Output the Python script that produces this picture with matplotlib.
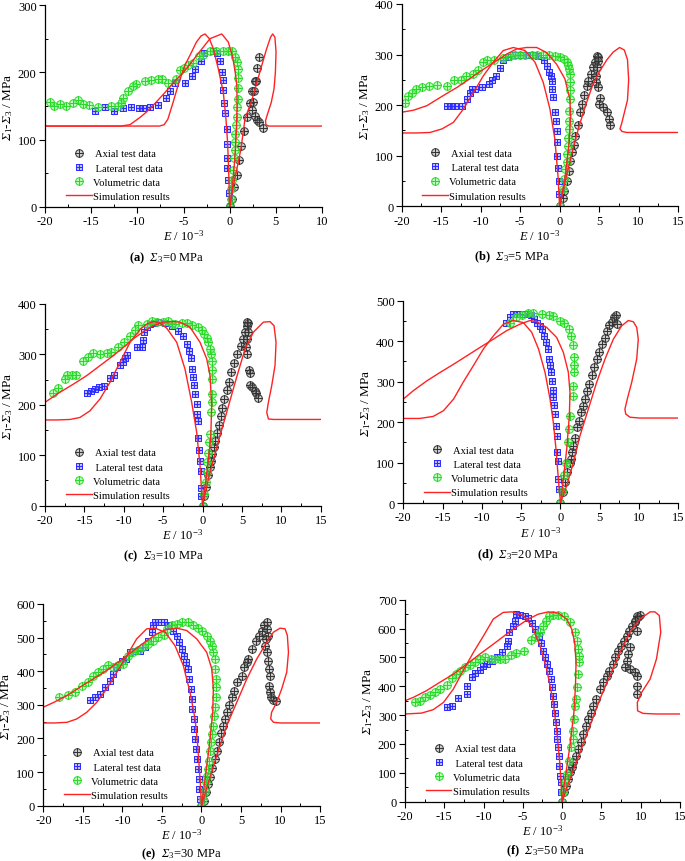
import matplotlib
matplotlib.use('Agg')
import matplotlib.pyplot as plt
from matplotlib.path import Path

plt.rcParams['font.family'] = ['Liberation Serif', 'DejaVu Serif']
plt.rcParams['mathtext.fontset'] = 'custom'
plt.rcParams['mathtext.rm'] = 'Liberation Serif:italic'
plt.rcParams['mathtext.it'] = 'Liberation Serif:italic'
plt.rcParams['mathtext.sf'] = 'Liberation Serif'
plt.rcParams['mathtext.bf'] = 'Liberation Serif:bold'
plt.rcParams['axes.unicode_minus'] = False

# ---------------- data: panel (a) sigma3 = 0 MPa ----------------
A_AX_X = [0.03,0.28,0.5,0.76,1.04,1.26,1.59,1.85,2.2,2.45,2.7,2.93,3.21,2.85,2.6,2.5,2.45,2.78,3.0,3.2,3.57]
A_AX_Y = [0.6,11.5,29,47,70,91,113,133,154,172,187,207,222,187,172,156,144,134.5,129,125.6,116.6]
A_LA_X = [0,-0.08,-0.22,-0.3,-0.3,-0.33,-0.33,-0.47,-0.65,-0.72,-0.76,-0.8,-1.05,-1.34,-1.8,-2.8,-3.14,-3.72,-4.1,-4.8,-5.9,-6.5,-6.9,-7.8,-8.6,-9.4,-9.8,-10.7,-11.6,-12.5,-13.55,-14.6]
A_LA_Y = [0,20,40,58,72,94,116,140,154,174,189,201,217,228,231,228,217,205,195,184,184,172,162,151,148,147,147,149,147,143,149,143]
A_VO_X = [0,0.1,0.14,0.28,0.33,0.47,0.55,0.6,0.6,0.69,0.76,0.8,0.87,0.94,0.94,0.87,0.76,0.58,0.22,-0.2,-0.69,-1.45,-2.1,-2.85,-3.3,-4.0,-4.5,-5.0,-5.4,-5.8,-6.7,-7.3,-7.8,-8.5,-9.2,-10.1,-10.5,-11.0,-11.6,-11.8,-12.1,-12.85,-14.3,-15.2,-15.9,-16.4,-17.0,-17.7,-18.4,-19.0,-19.5]
A_VO_Y = [0,11,26,40,55,72,85,97,108,121,134,148,160,176,191,205,215,223,231,232,232,232,231,226,224,214,211,207,204,190,184,190,190,189,187,182,179,172,162,155,150,150,148,151,153,159,155,150,153,150,156]
A_SA_X = [0,0.4,1.22,1.66,2.39,3.26,3.98,4.42,4.66,4.9,5.02,4.95,4.8,4.5,4.1,3.88,3.92,4.2,10]
A_SA_Y = [0,31,86,131,158,200,234,252,257,252,230,200,175,155,138,128,122,120,120]
A_SL_X = [0,-0.08,-0.15,-0.25,-0.4,-0.69,-1.23,-1.77,-2.2,-2.67,-3.1,-3.6,-4.2,-4.9,-5.6,-6.2,-6.7,-7.1,-7.6,-20]
A_SL_Y = [0,40,71,100,130,170,205,235,250,257,254,245,228,209,180,152,130,122,120,120]
A_SV_X = [0,0.3,0.55,0.72,0.8,0.78,0.6,0.33,-0.15,-0.86,-2.13,-3.57,-4.3,-5.0,-6.0,-7.0,-8.0,-9.0,-9.7,-10.8,-11.8,-20]
A_SV_Y = [0,30,70,110,150,180,200,222,245,257,250,225,212,200,186,170,155,141,133,122,120,120]

# ---------------- data: panel (b) sigma3 = 5 MPa ----------------
B_AX_X = [0,0.38,0.55,0.89,1.14,1.3,1.6,1.86,2.0,2.28,2.57,2.8,3.08,3.42,3.63,3.96,4.26,4.5,4.77,4.9,4.85,4.7,4.6,4.65,4.9,5.1,5.0,5.44,5.95,6.2,6.35]
B_AX_Y = [0,16,31,51,70,90,108,122,140,161,186,202,221,237,247,262,276,286,298,296,288,275,258,245,235,214,203,197,186,172,160]
B_LA_X = [0,-0.08,-0.13,-0.2,-0.3,-0.34,-0.38,-0.5,-0.6,-0.89,-0.93,-1.0,-1.1,-1.3,-1.65,-2.0,-2.7,-3.33,-4.2,-5.0,-5.65,-6.5,-7.13,-7.5,-8.0,-8.5,-9.0,-9.87,-10.7,-11.1,-11.4,-11.7,-12.3,-13.2,-13.8,-14.3]
B_LA_Y = [0,24,51,76,100,127,148,169,186,217,231,248,257,266,278,290,297,299,299,299,299,296,290,273,257,250,242,235,232,232,225,212,198,198,198,198]
B_VO_X = [0,0.38,0.55,0.72,0.9,0.97,1.05,1.1,1.14,1.22,1.22,1.3,1.3,1.3,1.3,1.22,1.1,0.89,0.6,0.04,-0.6,-1.3,-2.07,-2.9,-3.54,-4.4,-5.0,-5.65,-6.28,-7.13,-8.3,-9.24,-9.66,-10.3,-11.0,-11.85,-12.5,-13.37,-14.3,-15.56,-16.6,-17.46,-18.2,-18.7,-19.15,-19.57]
B_VO_Y = [0,34,54,74,87,103,120,136,153,169,189,212,229,246,262,271,279,286,291,295,297,299,299,299,299,299,299,299,298,293,290,290,285,270,262,257,250,250,237,240,237,235,232,225,219,204]
B_SA_X = [0,0.5,1.1,1.8,2.5,3.3,4.2,5.0,6.0,6.8,7.6,8.2,8.6,8.75,8.6,8.2,7.85,7.65,7.9,8.5,15]
B_SA_Y = [0,35,75,120,160,200,240,265,290,305,314,309,290,250,210,185,163,153,148,146,146]
B_SL_X = [0,-0.2,-0.6,-1.22,-2.07,-3.12,-4.39,-5.86,-7.13,-8.4,-9.66,-10.9,-12.2,-13.45,-14.9,-16.4,-18.1,-20]
B_SL_Y = [0,60,133,192,245,285,308,314,308,285,258,225,192,166,153,146,145,145]
B_SV_X = [0,0.67,1.22,1.4,1.3,0.67,-0.38,-1.65,-2.9,-4.18,-5.44,-6.7,-7.97,-9.24,-10.5,-11.77,-13.0,-14.3,-15.56,-16.8,-18.5,-20]
B_SV_Y = [0,54,127,179,212,252,281,304,314,314,311,301,288,275,262,248,235,223,211,199,190,186]

# ---------------- data: panel (c) sigma3 = 10 MPa ----------------
C_AX_X = [0,0.2,0.45,0.74,0.95,1.12,1.24,1.46,1.58,1.88,2.13,2.35,2.5,2.73,3.06,3.32,3.6,3.99,4.4,4.84,5.1,5.39,5.6,5.8,5.7,5.8,5.6,5.52,5.6,5.9,6.03,6.03,6.3,6.66,6.8,7.08]
C_AX_Y = [0,20,38,60,76,89,102,116,129,145,160,178,193,212,230,246,266,283,301,316,331,344,356,362,365,345,331,315,301,270,264,239,235,228,223,214]
C_LA_X = [0,-0.15,-0.2,-0.24,-0.32,-0.4,-0.53,-0.62,-0.66,-0.74,-0.9,-1.08,-1.25,-1.33,-1.5,-1.68,-1.93,-2.44,-3.07,-3.92,-4.76,-5.6,-6.2,-6.67,-7.1,-7.43,-7.5,-7.72,-8.27,-9.63,-9.84,-10.1,-10.47,-11.3,-11.74,-12.5,-13.1,-13.65,-14.2,-14.7]
C_LA_Y = [0,20,36,68,88,111,135,167,182,202,221,239,256,272,292,307,320,336,347,357,362,364,362,360,354,345,329,314,314,299,293,284,278,259,253,237,235,231,228,223]
C_VO_X = [0,0.2,0.45,0.53,0.6,0.74,0.86,0.95,1.07,1.16,1.24,1.24,1.24,1.24,1.03,0.95,0.74,0.53,0.19,-0.11,-0.53,-1.38,-1.93,-2.65,-3.5,-3.9,-4.34,-4.98,-5.8,-6.45,-7.1,-8.15,-8.6,-9.2,-9.97,-10.7,-11.65,-12.16,-13.0,-13.86,-14.5,-15.2,-16.06,-16.6,-17.2,-17.45,-18.3,-18.94]
C_VO_Y = [0,23,46,66,86,104,126,142,185,206,221,251,270,286,301,311,324,332,340,349,354,358,362,362,360,360,367,364,365,367,360,358,349,336,324,314,304,303,301,303,294,286,259,259,259,251,233,223]
C_SA_X = [0,0.74,1.8,3.06,4.33,5.4,6.45,7.72,8.56,9.07,9.33,9.2,8.78,8.36,8.15,8.36,9.0,15]
C_SA_Y = [0,53,116,185,255,311,344,364,365,357,324,278,238,205,185,172,171,171]
C_SL_X = [0,-0.32,-0.74,-1.38,-2.23,-3.28,-4.55,-5.5,-6.2,-7.0,-7.9,-9.2,-10.5,-11.74,-13.0,-14.3,-15.56,-16.8,-18.5,-20]
C_SL_Y = [0,79,145,205,271,324,352,363,365,361,350,324,284,245,212,188,175,171,170,170]
C_SV_X = [0,0.5,1.03,1.16,0.95,0.53,-0.32,-1.59,-2.86,-3.7,-4.98,-6.24,-7.5,-8.8,-10.05,-11.3,-13.0,-14.7,-16.4,-18.1,-20]
C_SV_Y = [0,60,132,198,258,291,324,354,364,365,364,357,345,331,314,298,278,258,241,225,205]

# ---------------- data: panel (d) sigma3 = 20 MPa ----------------
D_AX_X = [0,0.28,0.58,0.79,1.21,1.34,1.5,1.64,1.85,2.06,2.4,2.61,2.82,3.12,3.42,3.67,3.97,4.27,4.6,4.95,5.24,5.67,5.88,6.2,6.5,6.8,7.07,7.15]
D_AX_Y = [0,28,51,76,100,109,125,142,160,187,203,224,240,257,278,294,316,335,356,372,393,409,426,440,448,459,465,442]
D_LA_X = [0,-0.19,-0.27,-0.31,-0.4,-0.48,-0.6,-0.7,-0.78,-0.9,-1.0,-1.08,-1.16,-1.33,-1.42,-1.6,-1.84,-2.1,-2.4,-2.6,-2.95,-3.33,-3.75,-4.3,-4.94,-5.58,-6.0,-6.42,-6.93]
D_LA_Y = [0,35,59,105,125,166,191,220,242,261,280,302,323,341,357,380,397,413,430,438,446,455,465,467,467,467,467,459,446]
D_VO_X = [0,0.25,0.45,0.75,1.0,1.13,1.2,1.55,1.6,1.75,1.75,1.75,1.64,1.35,1.1,0.4,-0.05,-0.9,-1.5,-2.3,-3.5,-4.1,-4.9,-5.6,-6.4]
D_VO_Y = [0,30,68,100,150,183,215,265,290,325,340,360,390,412,430,446,451,463,465,467,470,470,465,459,446]
D_SA_X = [0,0.79,1.64,2.48,3.54,4.6,5.67,6.73,7.79,8.63,9.27,9.7,9.9,9.7,9.06,8.5,8.2,8.3,8.85,10.1,15]
D_SA_Y = [0,43,100,166,232,298,356,405,438,451,448,434,405,356,298,257,232,220,212,210,210]
D_SL_X = [0,-0.27,-0.57,-0.91,-1.33,-1.97,-2.8,-3.67,-4.73,-6.0,-7.27,-8.54,-9.8,-11.1,-12.4,-13.6,-14.9,-16.2,-17.9,-20]
D_SL_Y = [0,59,133,199,257,323,381,422,446,451,442,413,381,339,298,257,228,214,209,209]
D_SV_X = [0,0.36,0.79,1.13,1.21,1.0,0.37,-0.48,-1.76,-3.03,-3.88,-5.15,-6.85,-8.54,-10.2,-11.9,-13.6,-15.3,-17.0,-18.7,-20]
D_SV_Y = [0,59,133,216,273,323,372,409,434,448,451,442,426,405,385,364,343,323,302,278,257]

# ---------------- data: panel (e) sigma3 = 30 MPa ----------------
E_AX_X = [0,0.32,0.58,0.87,1.08,1.38,1.72,1.93,2.18,2.43,2.69,2.98,3.19,3.53,3.82,4.12,4.54,5.09,5.39,5.73,5.94,6.36,6.9,7.32,7.62,7.9,8.25,8.45,8.25,8.1,8.03,8.25,8.37,8.58,8.66,8.58,8.66,8.75,9.1,9.4]
E_AX_Y = [0,15,40,64,84,111,139,164,188,216,238,258,278,300,322,342,367,387,412,427,436,466,491,506,521,536,545,506,526,496,476,456,431,407,387,357,337,322,315,312]
E_LA_X = [0,-0.18,-0.27,-0.35,-0.48,-0.6,-0.73,-0.86,-0.94,-1.0,-1.15,-1.24,-1.37,-1.53,-1.74,-1.95,-2.2,-2.5,-2.8,-3.13,-3.55,-4.2,-4.8,-5.45,-5.87,-6.16,-6.3,-6.72,-7.14,-7.77,-8.4,-9.04,-9.55,-10.1,-10.73,-11.15,-11.57,-12.2,-12.8,-13.46,-14.1]
E_LA_Y = [0,20,50,79,109,139,169,198,228,258,288,317,347,377,407,426,446,466,486,506,521,536,545,547,545,536,516,491,471,461,461,456,436,431,412,392,372,352,332,322,315]
E_VO_X = [0,0.25,0.45,0.58,0.75,0.87,0.96,1.08,1.2,1.34,1.5,1.6,1.72,1.8,1.85,1.85,1.72,1.72,1.5,1.3,1.08,0.66,0.03,-0.4,-1.03,-1.74,-2.5,-3.13,-3.77,-4.4,-4.8,-5.45,-6.1,-6.72,-7.35,-8.0,-8.6,-9.25,-9.9,-10.5,-11.15,-11.8,-12.4,-13.05,-13.7,-14.3,-15.15,-16.0,-16.85,-17.98]
E_VO_Y = [0,20,45,69,89,109,134,164,188,213,238,268,293,322,352,377,407,436,456,476,491,506,521,528,536,545,547,541,536,526,508,501,491,481,471,464,456,446,421,419,412,419,407,397,387,369,355,337,329,322]
E_SA_X = [0,0.87,1.93,3.19,4.45,5.73,6.98,8.25,9.1,9.94,10.57,10.86,11.0,10.78,10.14,9.5,8.87,8.75,9.1,9.94,15]
E_SA_Y = [0,69,149,238,307,377,436,486,516,528,526,506,456,397,347,307,278,258,248,246,246]
E_SL_X = [0,-0.18,-0.48,-0.81,-1.45,-2.3,-3.35,-4.6,-5.87,-6.93,-8.2,-9.45,-10.7,-12.0,-13.26,-14.5,-15.77,-17.0,-18.5,-20]
E_SL_Y = [0,79,179,258,337,417,476,516,528,526,496,446,397,347,307,278,258,248,246,246]
E_SV_X = [0,0.45,1.0,1.42,1.5,1.3,0.66,-0.6,-1.87,-3.13,-4.4,-5.66,-6.93,-8.6,-10.3,-12.0,-13.7,-15.4,-17.05,-18.7,-20]
E_SV_Y = [0,79,179,278,347,407,456,496,521,528,524,511,491,461,431,402,377,352,327,307,293]

# ---------------- data: panel (f) sigma3 = 50 MPa ----------------
F_AX_X = [0,0.24,0.5,0.8,1.0,1.2,1.43,1.77,2.06,2.4,2.7,3.03,3.33,3.63,3.97,4.3,4.8,5.23,5.65,6.0,6.42,6.76,7.14,7.48,7.86,8.2,8.54,8.84,9.26,9.6,9.9,9.5,9.26,9.48,8.63,8.42,8.3,8.0,8.63,9.26,9.57,9.48,9.48]
F_AX_Y = [0,32,55,79,102,119,136,159,183,206,234,263,286,309,333,356,390,414,437,454,477,500,523,541,558,575,593,610,624,639,647,645,627,593,535,512,489,466,460,448,434,402,373]
F_LA_X = [0,-0.1,-0.19,-0.27,-0.36,-0.44,-0.53,-0.61,-0.7,-0.78,-0.9,-1.0,-1.12,-1.25,-1.42,-1.63,-1.9,-2.14,-2.4,-2.65,-3.0,-3.45,-3.88,-4.3,-4.73,-5.36,-5.87,-6.0,-6.2,-6.7,-6.85,-7.06,-7.7,-8.33,-8.97,-9.6,-10.1,-10.5,-11.1,-11.5,-12.05,-12.14,-13.2,-14.06,-14.7]
F_LA_Y = [0,32,67,90,125,159,188,217,246,275,309,338,367,396,425,454,477,500,523,550,575,600,621,635,645,647,650,627,610,587,558,541,520,500,489,477,469,457,445,431,400,373,358,333,329]
F_VO_X = [0,0.17,0.37,0.66,0.92,1.13,1.34,1.43,1.55,1.68,1.77,1.93,2.06,2.1,2.1,2.0,1.93,1.64,1.0,0.24,-0.48,-1.12,-1.63,-2.05,-2.4,-2.8,-3.45,-3.9,-4.85,-5.87,-6.55,-7.27,-7.9,-8.54,-9.1,-9.8,-10.45,-11.1,-11.7,-12.35,-13.0,-13.5,-14.06,-14.7,-15.55,-16.2,-16.8,-17.46,-18.1,-18.7]
F_VO_Y = [0,32,67,96,142,188,217,246,286,333,356,396,442,483,506,529,558,589,624,642,647,647,642,627,608,589,570,560,523,515,508,494,494,494,494,500,494,485,474,466,454,442,427,404,390,379,370,362,350,344]
F_SA_X = [0,1.0,2.27,3.54,4.82,6.09,7.36,8.63,9.9,11.2,11.8,12.37,12.55,12.0,11.2,10.12,9.57,9.6,10.3,12.0,15]
F_SA_Y = [0,79,171,263,356,437,517,587,633,658,658,645,587,494,425,379,344,315,306,304,304]
F_SL_X = [0,-0.27,-0.7,-1.2,-1.97,-2.82,-3.88,-4.94,-6.4,-7.5,-8.76,-10.0,-11.3,-12.6,-13.85,-15.1,-16.4,-17.9,-20]
F_SL_Y = [0,125,252,356,460,541,610,645,658,656,633,575,517,454,390,344,319,307,304]
F_SV_X = [0,0.37,1.0,1.5,1.7,1.77,1.6,1.22,0.58,-0.48,-1.76,-3.03,-4.3,-5.57,-7.06,-8.76,-10.45,-12.14,-13.85,-15.55,-17.25,-18.9,-20]
F_SV_Y = [0,79,194,310,402,483,552,598,633,654,658,650,633,610,581,546,512,477,442,414,385,362,350]

LABELS = [' Axial test data', ' Lateral test data', 'Volumetric data', 'Simulation results']
CAPTION_LETTERS = ['a', 'b', 'c', 'd', 'e', 'f']
SIGMA3 = [0, 5, 10, 20, 30, 50]
XMAX = [10, 15, 15, 15, 15, 15]
YMAX = [300, 400, 400, 500, 600, 700]

# ---------------- marker shapes ----------------
_plus = Path([(-1, 0), (1, 0), (0, -1), (0, 1)],
             [Path.MOVETO, Path.LINETO, Path.MOVETO, Path.LINETO])
CIRC_PLUS = Path.make_compound_path(Path.unit_circle(), _plus)
_sq = Path([(-1, -1), (1, -1), (1, 1), (-1, 1), (-1, -1)],
           [Path.MOVETO, Path.LINETO, Path.LINETO, Path.LINETO, Path.CLOSEPOLY])
SQ_PLUS = Path.make_compound_path(_sq, _plus)

AX_STYLE = dict(ls='none', marker=CIRC_PLUS, ms=5.5, mew=0.7,
                mfc=(0.5, 0.5, 0.5, 0.4), mec='#333333')
LA_STYLE = dict(ls='none', marker=SQ_PLUS, ms=5.0, mew=0.7,
                mfc=(0.45, 0.45, 1.0, 0.45), mec='#2a2aff')
VO_STYLE = dict(ls='none', marker=CIRC_PLUS, ms=5.5, mew=0.7,
                mfc=(0.45, 1.0, 0.45, 0.45), mec='#2ad82a')
SIM_STYLE = dict(color='#ff2222', lw=1.0)

PANELS = [
    (A_AX_X, A_AX_Y, A_LA_X, A_LA_Y, A_VO_X, A_VO_Y, A_SA_X, A_SA_Y, A_SL_X, A_SL_Y, A_SV_X, A_SV_Y),
    (B_AX_X, B_AX_Y, B_LA_X, B_LA_Y, B_VO_X, B_VO_Y, B_SA_X, B_SA_Y, B_SL_X, B_SL_Y, B_SV_X, B_SV_Y),
    (C_AX_X, C_AX_Y, C_LA_X, C_LA_Y, C_VO_X, C_VO_Y, C_SA_X, C_SA_Y, C_SL_X, C_SL_Y, C_SV_X, C_SV_Y),
    (D_AX_X, D_AX_Y, D_LA_X, D_LA_Y, D_VO_X, D_VO_Y, D_SA_X, D_SA_Y, D_SL_X, D_SL_Y, D_SV_X, D_SV_Y),
    (E_AX_X, E_AX_Y, E_LA_X, E_LA_Y, E_VO_X, E_VO_Y, E_SA_X, E_SA_Y, E_SL_X, E_SL_Y, E_SV_X, E_SV_Y),
    (F_AX_X, F_AX_Y, F_LA_X, F_LA_Y, F_VO_X, F_VO_Y, F_SA_X, F_SA_Y, F_SL_X, F_SL_Y, F_SV_X, F_SV_Y),
]

# axes rectangles [left, bottom, width, height] in figure fraction
RECTS = [
    [0.0657, 0.7590, 0.4044, 0.2340],
    [0.5864, 0.7595, 0.4034, 0.2347],
    [0.0657, 0.4122, 0.4025, 0.2340],
    [0.5888, 0.4153, 0.4015, 0.2347],
    [0.0633, 0.0642, 0.4040, 0.2340],
    [0.5912, 0.0688, 0.4015, 0.2343],
]
CAP_X = [0.437, 0.40, 0.43, 0.417, 0.50, 0.51]
CAP_Y = [-0.25, -0.247, -0.248, -0.252, -0.238, -0.243]

fig = plt.figure(figsize=(6.85, 8.62), dpi=100)

for i, data in enumerate(PANELS):
    ax_x, ax_y, la_x, la_y, vo_x, vo_y, sa_x, sa_y, sl_x, sl_y, sv_x, sv_y = data
    ax = fig.add_axes(RECTS[i])
    ax.plot(ax_x, ax_y, label=LABELS[0], **AX_STYLE)
    ax.plot(la_x, la_y, label=LABELS[1], **LA_STYLE)
    ax.plot(vo_x, vo_y, label=LABELS[2], **VO_STYLE)
    ax.plot(sa_x, sa_y, label=LABELS[3], **SIM_STYLE)
    ax.plot(sl_x, sl_y, **SIM_STYLE)
    ax.plot(sv_x, sv_y, **SIM_STYLE)

    ax.set_xlim(-20, XMAX[i])
    ax.set_ylim(0, YMAX[i])
    ax.set_xticks(range(-20, XMAX[i] + 1, 5))
    ax.set_yticks(range(0, YMAX[i] + 1, 100))
    ax.set_xticks([v + 2.5 for v in range(-20, XMAX[i], 5)], minor=True)
    ax.set_yticks([v + 50 for v in range(0, YMAX[i], 100)], minor=True)
    for s in ('top', 'right'):
        ax.spines[s].set_visible(False)
    for s in ('left', 'bottom'):
        ax.spines[s].set_linewidth(0.9)
    ax.tick_params(which='major', direction='out', length=4, width=0.8,
                   labelsize=9, pad=2)
    ax.tick_params(which='minor', direction='in', length=2.5, width=0.7)

    ax.set_xlabel(r'$E$ / 10$^{\mathsf{-3}}$', fontsize=9, labelpad=1)
    ax.set_ylabel(r'$\Sigma_{\mathsf{1}}$-$\Sigma_{\mathsf{3}}$ / MPa', fontsize=9.5, labelpad=2)

    ax.legend(loc='lower left', bbox_to_anchor=(0.075, 0.028), frameon=False,
              fontsize=7.6, handlelength=2.45, handletextpad=0.1,
              labelspacing=0.46, borderpad=0, borderaxespad=0)

    ax.text(CAP_X[i], CAP_Y[i],
            r'$\mathbf{(%s)}$  $\Sigma_{\mathsf{3}}$=%d MPa' % (CAPTION_LETTERS[i], SIGMA3[i]),
            transform=ax.transAxes, ha='center', va='center', fontsize=9)

fig.savefig('out.png', dpi=100)
